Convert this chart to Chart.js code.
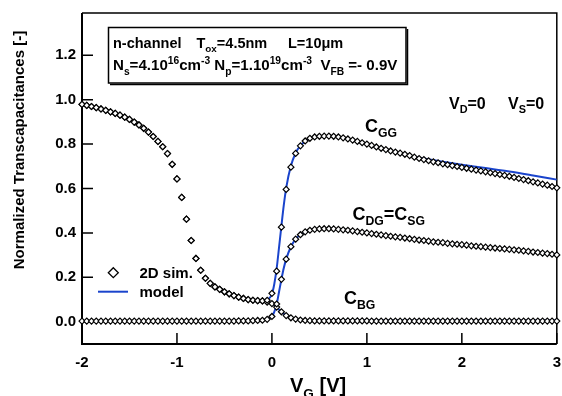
<!DOCTYPE html>
<html>
<head>
<meta charset="utf-8">
<script src="https://cdn.jsdelivr.net/npm/chart.js@4.4.1/dist/chart.umd.min.js"></script>
<style>
  html, body { margin: 0; padding: 0; background: #fff; }
  #wrap { width: 562px; height: 396px; }
</style>
</head>
<body>
<div id="wrap"><canvas id="c" width="562" height="396"></canvas></div>
<script>
// Gate voltage sweep of the 2D simulation (V)
const gateVoltage = [-2.00,-1.95,-1.90,-1.85,-1.80,-1.75,-1.70,-1.65,-1.60,-1.55,-1.50,-1.45,-1.40,-1.35,-1.30,-1.25,-1.20,-1.15,-1.10,-1.05,
  -1.00,-0.95,-0.90,-0.85,-0.80,-0.75,-0.70,-0.65,-0.60,-0.55,-0.50,-0.45,-0.40,-0.35,-0.30,-0.25,-0.20,-0.15,-0.10,-0.05,
  0.00,0.05,0.10,0.15,0.20,0.25,0.30,0.35,0.40,0.45,0.50,0.55,0.60,0.65,0.70,0.75,0.80,0.85,0.90,0.95,
  1.00,1.05,1.10,1.15,1.20,1.25,1.30,1.35,1.40,1.45,1.50,1.55,1.60,1.65,1.70,1.75,1.80,1.85,1.90,1.95,
  2.00,2.05,2.10,2.15,2.20,2.25,2.30,2.35,2.40,2.45,2.50,2.55,2.60,2.65,2.70,2.75,2.80,2.85,2.90,2.95,3.00];

// 2D simulation: normalized C_GG
const simCgg = [0.979,0.974,0.969,0.964,0.958,0.952,0.945,0.938,0.930,0.921,0.911,0.899,0.886,0.871,0.854,0.834,0.812,0.788,0.757,0.709,
  0.643,0.560,0.462,0.366,0.285,0.232,0.196,0.173,0.157,0.146,0.135,0.126,0.118,0.111,0.105,0.100,0.097,0.095,0.094,0.097,
  0.128,0.228,0.426,0.596,0.696,0.758,0.792,0.814,0.826,0.832,0.835,0.836,0.836,0.835,0.832,0.828,0.823,0.818,0.812,0.806,
  0.800,0.794,0.787,0.781,0.775,0.769,0.764,0.759,0.754,0.748,0.741,0.735,0.730,0.725,0.720,0.716,0.711,0.707,0.703,0.699,
  0.695,0.691,0.687,0.683,0.679,0.675,0.671,0.667,0.663,0.659,0.655,0.650,0.645,0.640,0.635,0.630,0.625,0.620,0.615,0.609,0.603];

// 2D simulation: normalized C_DG (= C_SG)
const simCdg = [0.003,0.003,0.003,0.003,0.003,0.003,0.003,0.003,0.003,0.003,0.003,0.003,0.003,0.003,0.003,0.003,0.003,0.003,0.003,0.003,
  0.003,0.003,0.003,0.003,0.003,0.003,0.003,0.003,0.003,0.003,0.003,0.003,0.003,0.004,0.004,0.004,0.005,0.006,0.007,0.011,
  0.024,0.080,0.191,0.282,0.338,0.372,0.392,0.405,0.412,0.416,0.418,0.419,0.419,0.418,0.416,0.414,0.412,0.409,0.406,0.403,
  0.400,0.397,0.394,0.391,0.388,0.385,0.382,0.380,0.377,0.374,0.371,0.368,0.366,0.363,0.360,0.358,0.356,0.353,0.351,0.349,
  0.347,0.345,0.342,0.340,0.338,0.336,0.334,0.332,0.330,0.328,0.326,0.324,0.322,0.319,0.317,0.314,0.312,0.309,0.307,0.304,0.301];

// 2D simulation: normalized C_BG
const simCbg = [0.979,0.974,0.969,0.964,0.958,0.952,0.945,0.938,0.930,0.921,0.911,0.899,0.886,0.871,0.854,0.834,0.812,0.788,0.757,0.709,
  0.643,0.560,0.462,0.366,0.285,0.232,0.196,0.173,0.157,0.146,0.135,0.126,0.118,0.111,0.105,0.100,0.097,0.095,0.094,0.088,
  0.082,0.066,0.045,0.028,0.018,0.012,0.008,0.006,0.005,0.004,0.004,0.004,0.004,0.004,0.004,0.004,0.004,0.004,0.004,0.004,
  0.004,0.003,0.003,0.003,0.003,0.003,0.003,0.003,0.003,0.003,0.003,0.003,0.003,0.003,0.003,0.003,0.003,0.003,0.003,0.003,
  0.003,0.003,0.003,0.003,0.003,0.003,0.003,0.003,0.003,0.003,0.003,0.003,0.003,0.003,0.003,0.003,0.003,0.003,0.003,0.003,0.003];

// Compact model curves
const modelVoltage = [-0.15,-0.10,-0.05,0.00,0.025,0.05,0.075,0.10,0.125,0.15,0.20,0.25,0.30,0.40,0.50,0.60,0.80,1.00,1.25,1.50,1.75,2.00,2.25,2.50,2.75,3.00];
const modelCgg = [0.095,0.094,0.098,0.125,0.170,0.240,0.335,0.432,0.525,0.602,0.702,0.760,0.793,0.827,0.836,0.836,0.823,0.800,0.771,0.743,0.724,0.707,0.692,0.677,0.659,0.640];
const modelCdg = [0.006,0.007,0.011,0.024,0.045,0.080,0.135,0.191,0.242,0.282,0.338,0.372,0.392,0.412,0.418,0.419,0.412,0.400,0.385,0.371,0.358,0.347,0.336,0.326,0.314,0.301];
const modelCbg = [0.095,0.094,0.090,0.082,0.076,0.066,0.055,0.045,0.036,0.028,0.018,0.012,0.009,0.007,0.006,0.006,0.006,0.006,0.006,0.006,0.006,0.006,0.006,0.006,0.006,0.006];

// Axis ticks
const xTicks = [-2, -1, 0, 1, 2, 3];
const yTicks = [0.0, 0.2, 0.4, 0.6, 0.8, 1.0, 1.2];

const FONT = '"Liberation Sans", Arial, Helvetica, sans-serif';
const BLUE = '#1a44cc';

const pts = (xs, ys) => xs.map((x, i) => ({ x: x, y: ys[i] }));

function simSet(label, ys) {
  return {
    label: label, data: pts(gateVoltage, ys), showLine: false,
    pointStyle: 'rectRot', pointRadius: 3, borderWidth: 1.2,
    borderColor: '#000', backgroundColor: '#fff', order: 1, clip: false
  };
}
function modelSet(label, ys) {
  return {
    label: label, data: pts(modelVoltage, ys), showLine: true,
    borderColor: BLUE, borderWidth: 2, pointRadius: 0,
    cubicInterpolationMode: 'monotone', order: 2
  };
}

// text with sub/superscripts: parts = [[text, kind]] kind 0 normal, 1 sub, 2 sup
function richText(ctx, x, y, parts, size, subScale) {
  let cx = x;
  const sc = subScale || 0.68;
  for (const [t, k] of parts) {
    const s = k ? size * sc : size;
    ctx.font = 'bold ' + s + 'px ' + FONT;
    const dy = k === 1 ? size * 0.3 : (k === 2 ? -size * 0.42 : 0);
    ctx.fillText(t, cx, y + dy);
    cx += ctx.measureText(t).width;
  }
  return cx;
}

// frame and inward tick marks
const framePlugin = {
  id: 'frame',
  beforeDatasetsDraw(chart) {
    const { ctx, chartArea: a, scales } = chart;
    ctx.save();
    ctx.strokeStyle = '#000';
    ctx.lineWidth = 1.5;
    ctx.beginPath();
    ctx.moveTo(a.left, a.top); ctx.lineTo(a.right, a.top); ctx.lineTo(a.right, a.bottom);
    ctx.stroke();
    ctx.lineWidth = 2;
    ctx.beginPath();
    ctx.moveTo(a.left, a.top); ctx.lineTo(a.left, a.bottom); ctx.lineTo(a.right, a.bottom);
    ctx.stroke();
    ctx.lineWidth = 1.5;
    ctx.beginPath();
    for (const v of yTicks) {
      const y = scales.y.getPixelForValue(v);
      ctx.moveTo(a.left, y); ctx.lineTo(a.left + 11, y);
    }
    for (const v of xTicks) {
      const x = scales.x.getPixelForValue(v);
      ctx.moveTo(x, a.bottom); ctx.lineTo(x, a.bottom - 11);
    }
    ctx.stroke();
    ctx.restore();
  }
};

// labels, info box, legend, axis titles
const textPlugin = {
  id: 'texts',
  afterDatasetsDraw(chart) {
    const ctx = chart.ctx;
    ctx.save();
    ctx.fillStyle = '#000';
    ctx.textBaseline = 'alphabetic';
    ctx.textAlign = 'left';

    // info box
    ctx.fillStyle = '#fff';
    ctx.fillRect(108.5, 27.5, 297.5, 55.5);
    ctx.strokeStyle = '#000';
    ctx.lineWidth = 1.5;
    ctx.strokeRect(108.5, 27.5, 297.5, 55.5);
    ctx.beginPath();
    ctx.moveTo(110, 84.5); ctx.lineTo(407.5, 84.5); ctx.lineTo(407.5, 29);
    ctx.stroke();
    ctx.fillStyle = '#000';
    richText(ctx, 113, 48, [['n-channel', 0]], 14.5);
    richText(ctx, 196.5, 48, [['T', 0], ['ox', 1], ['=4.5nm', 0]], 14.5);
    richText(ctx, 288, 48, [['L=10\u03bcm', 0]], 14.5);
    richText(ctx, 113, 70, [['N', 0], ['s', 1], ['=4.10', 0], ['16', 2], ['cm', 0], ['-3', 2],
      [' N', 0], ['p', 1], ['=1.10', 0], ['19', 2], ['cm', 0], ['-3', 2], ['  V', 0], ['FB', 1], [' =- 0.9V', 0]], 15.1);

    // bias condition
    richText(ctx, 449, 108.5, [['V', 0], ['D', 1], ['=0', 0]], 16);
    richText(ctx, 508, 108.5, [['V', 0], ['S', 1], ['=0', 0]], 16);

    // curve names
    richText(ctx, 365, 131.5, [['C', 0], ['GG', 1]], 18);
    richText(ctx, 352.5, 219.5, [['C', 0], ['DG', 1], ['=C', 0], ['SG', 1]], 18);
    richText(ctx, 344, 303.5, [['C', 0], ['BG', 1]], 18);

    // legend
    ctx.beginPath();
    ctx.moveTo(113.3, 267.7); ctx.lineTo(118.3, 272.7); ctx.lineTo(113.3, 277.7); ctx.lineTo(108.3, 272.7); ctx.closePath();
    ctx.fillStyle = '#fff'; ctx.fill();
    ctx.lineWidth = 1.3; ctx.strokeStyle = '#000'; ctx.stroke();
    ctx.beginPath();
    ctx.moveTo(98, 291.7); ctx.lineTo(128, 291.7);
    ctx.lineWidth = 2; ctx.strokeStyle = BLUE; ctx.stroke();
    ctx.fillStyle = '#000';
    richText(ctx, 139.5, 277.5, [['2D sim.', 0]], 15);
    richText(ctx, 139.5, 296.5, [['model', 0]], 15);

    // x axis title
    richText(ctx, 290, 392, [['V', 0], ['G', 1], [' [V]', 0]], 20);

    // y axis title
    ctx.translate(24, 150);
    ctx.rotate(-Math.PI / 2);
    ctx.textAlign = 'center';
    ctx.font = 'bold 15px ' + FONT;
    ctx.fillText('Normalized Transcapacitances [-]', 0, 0);
    ctx.restore();
  }
};

new Chart(document.getElementById('c'), {
  type: 'scatter',
  data: {
    datasets: [
      modelSet('model C_GG', modelCgg),
      modelSet('model C_DG', modelCdg),
      modelSet('model C_BG', modelCbg),
      simSet('2D sim. C_GG', simCgg),
      simSet('2D sim. C_DG', simCdg),
      simSet('2D sim. C_BG', simCbg)
    ]
  },
  options: {
    responsive: false,
    animation: false,
    events: [],
    layout: { padding: { left: 0, top: 13, right: 4, bottom: 0 } },
    plugins: { legend: { display: false }, tooltip: { enabled: false } },
    scales: {
      x: {
        type: 'linear', min: -2, max: 3,
        grid: { display: false, drawTicks: false },
        border: { display: false },
        ticks: { stepSize: 1, color: '#000', padding: 10, maxRotation: 0,
                 font: { family: FONT, size: 15, weight: 'bold' } },
        afterBuildTicks(s) { s.ticks = xTicks.map(v => ({ value: v })); },
        afterFit(s) { s.height = 52; s.paddingLeft = 0; s.paddingRight = 0; }
      },
      y: {
        type: 'linear', min: -0.1, max: 1.39,
        grid: { display: false, drawTicks: false },
        border: { display: false },
        ticks: { color: '#000', padding: 6,
                 font: { family: FONT, size: 15, weight: 'bold' },
                 callback: v => Number(v).toFixed(1) },
        afterBuildTicks(s) { s.ticks = yTicks.map(v => ({ value: v })); },
        afterFit(s) { s.width = 82; s.paddingTop = 0; s.paddingBottom = 0; }
      }
    }
  },
  plugins: [framePlugin, textPlugin]
});
</script>
</body>
</html>
